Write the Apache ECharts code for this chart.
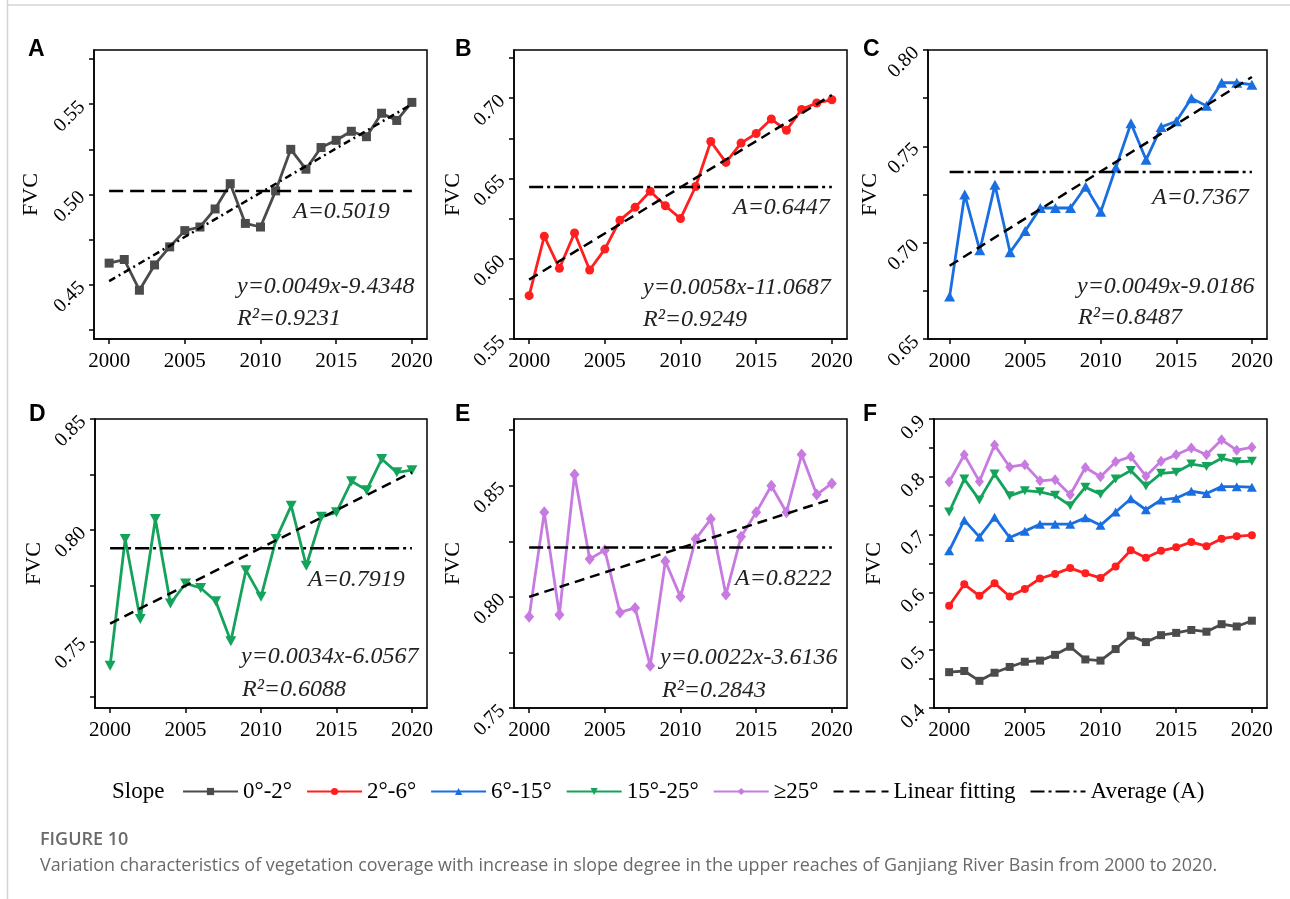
<!DOCTYPE html>
<html><head><meta charset="utf-8">
<script src="https://cdn.jsdelivr.net/npm/echarts@6/dist/echarts.min.js"></script>
<style>html,body{margin:0;padding:0;background:#fff}#c{width:1290px;height:899px}</style>
</head><body><div id="c"></div>
<script>
// ---------------- data ----------------
const years = [2000,2001,2002,2003,2004,2005,2006,2007,2008,2009,2010,2011,2012,2013,2014,2015,2016,2017,2018,2019,2020];
const fvc0to2 = [0.462,0.464,0.447,0.461,0.471,0.480,0.482,0.492,0.506,0.484,0.482,0.502,0.525,0.514,0.526,0.530,0.535,0.532,0.545,0.541,0.551];
const fvc2to6 = [0.577,0.614,0.594,0.616,0.593,0.606,0.624,0.632,0.642,0.633,0.625,0.645,0.673,0.660,0.672,0.678,0.687,0.680,0.693,0.697,0.699];
const fvc6to15 = [0.672,0.725,0.696,0.730,0.695,0.706,0.718,0.718,0.718,0.729,0.716,0.739,0.762,0.743,0.760,0.763,0.775,0.771,0.783,0.783,0.782];
const fvc15to25 = [0.739,0.796,0.760,0.805,0.767,0.776,0.774,0.768,0.750,0.782,0.770,0.796,0.811,0.784,0.806,0.808,0.822,0.818,0.832,0.826,0.827];
const fvcAbove25 = [0.791,0.838,0.792,0.855,0.817,0.821,0.793,0.795,0.769,0.816,0.800,0.826,0.835,0.801,0.827,0.838,0.850,0.838,0.864,0.846,0.851];
const averageA = [0.5019,0.6447,0.7367,0.7919,0.8222];
const fitStart = [0.452,0.587,0.688,0.758,0.800];
const fitEnd = [0.550,0.702,0.786,0.826,0.844];
const fitEquations = ['y=0.0049x-9.4348','y=0.0058x-11.0687','y=0.0049x-9.0186','y=0.0034x-6.0567','y=0.0022x-3.6136'];
const r2Values = ['0.9231','0.9249','0.8487','0.6088','0.2843'];
const seriesNames = ['0°-2°','2°-6°','6°-15°','15°-25°','≥25°'];
const panelLetters = ['A','B','C','D','E','F'];
const xTicks = [2000,2005,2010,2015,2020];
const yLabelTicks = [[0.45,0.50,0.55],[0.55,0.60,0.65,0.70],[0.65,0.70,0.75,0.80],[0.75,0.80,0.85],[0.75,0.80,0.85],[0.4,0.5,0.6,0.7,0.8,0.9]];
const yMinorTicks = [[0.425,0.475,0.525,0.575],[0.575,0.625,0.675,0.725],[0.675,0.725,0.775],[0.725,0.775,0.825],[0.775,0.825,0.875],[0.45,0.55,0.65,0.75,0.85]];
const yRanges = [[0.42,0.58],[0.55,0.73],[0.65,0.80],[0.72,0.85],[0.75,0.88],[0.4,0.9]];
const xRanges = [[1999,2021],[1999,2021],[1998.57,2021],[1999,2021],[1999,2021],[1999,2021]];
const fitName = 'Linear fitting';
const avgName = 'Average (A)';
const captionTitle = 'FIGURE 10';
const captionText = 'Variation characteristics of vegetation coverage with increase in slope degree in the upper reaches of Ganjiang River Basin from 2000 to 2020.';

// ---------------- styles / layout ----------------
const slopeData = [fvc0to2, fvc2to6, fvc6to15, fvc15to25, fvcAbove25];
const colors = ['#4b4b4b','#ff1f1f','#1a6fe0','#15a35c','#c77be0'];
const symbols = ['rect','circle','triangle','triangle','diamond'];
const rotates = [0,0,0,180,0];
const symSizeMain = [9,9,[11,10],[11,10],[10,12]];
const symSizeF = [8,8,[10,9],[10,9],[9,11]];
const grids = [
  {left:94, top:50, width:333, height:289},
  {left:514, top:50, width:333, height:289},
  {left:928, top:50, width:339, height:289},
  {left:95, top:419, width:332, height:289},
  {left:514, top:419, width:333, height:289},
  {left:934, top:419, width:333, height:289}
];
const nameGaps = [52,50,44,50,50,49];
const SERIF = '"Liberation Serif","Times New Roman",serif';

const gridOpts = grids.map(g => Object.assign({show:true, borderColor:'#000', borderWidth:1.5, backgroundColor:'transparent', containLabel:false}, g));
const xAxes = grids.map((g,i) => ({
  gridIndex:i, type:'value', min:xRanges[i][0], max:xRanges[i][1],
  axisLine:{show:true, onZero:false, lineStyle:{color:'#000', width:1.5}},
  axisTick:{show:true, length:5, lineStyle:{color:'#000', width:1.5}, customValues:xTicks},
  axisLabel:{customValues:xTicks, margin:12, fontFamily:SERIF, fontSize:21, color:'#000', formatter:v=>String(Math.round(v))},
  splitLine:{show:false}
}));
const yAxes = grids.map((g,i) => ({
  gridIndex:i, type:'value', min:yRanges[i][0], max:yRanges[i][1],
  name:'FVC', nameLocation:'middle', nameGap:nameGaps[i],
  nameTextStyle:{fontFamily:SERIF, fontSize:22, color:'#000'},
  axisLine:{show:true, onZero:false, lineStyle:{color:'#000', width:1.5}},
  axisTick:{show:true, length:5, lineStyle:{color:'#000', width:1.5}, customValues:yLabelTicks[i].concat(yMinorTicks[i])},
  axisLabel:{customValues:yLabelTicks[i], rotate:45, margin:12, fontFamily:SERIF, fontSize:20, color:'#000',
    formatter: v => i === 5 ? v.toFixed(1) : v.toFixed(2)},
  splitLine:{show:false}
}));

const series = [];
function slopeSeries(k, axis, sizes, z) {
  return {
    type:'line', name:seriesNames[k], xAxisIndex:axis, yAxisIndex:axis,
    data: years.map((yr,j) => [yr, slopeData[k][j]]),
    symbol:symbols[k], symbolRotate:rotates[k], symbolSize:sizes[k], showSymbol:true,
    lineStyle:{color:colors[k], width:2.8}, itemStyle:{color:colors[k]},
    z:z, silent:true
  };
}
for (let k = 0; k < 5; k++) series.push(slopeSeries(k, k, symSizeMain, 3));
for (let k = 0; k < 5; k++) series.push(slopeSeries(k, 5, symSizeF, 3));
// fit & average lines (panel A uses swapped line styles, as in the figure)
[1,2,3,4,0].forEach(i => {
  const fitType = i === 0 ? [7,4,2,4] : [10,6];
  const avgType = i === 0 ? [14,7] : [14,4,3,4];
  series.push({
    type:'line', name:fitName, xAxisIndex:i, yAxisIndex:i, symbol:'none',
    data:[[years[0], fitStart[i]], [years[years.length-1], fitEnd[i]]],
    lineStyle:{color:'#000', width:2.5, type:fitType}, itemStyle:{color:'#000'}, z:4, silent:true
  });
  series.push({
    type:'line', name:avgName, xAxisIndex:i, yAxisIndex:i, symbol:'none',
    data:[[years[0], averageA[i]], [years[years.length-1], averageA[i]]],
    lineStyle:{color:'#000', width:2.5, type:avgType}, itemStyle:{color:'#000'}, z:4, silent:true
  });
});

// annotation text positions (pixel layout)
const annPos = [
  {a:[293,212], e:[237,287], r:[237,319]},
  {a:[733,208], e:[643,288], r:[643,320]},
  {a:[1152,198], e:[1077,287], r:[1078,318]},
  {a:[308,580], e:[241,657], r:[242,690]},
  {a:[735,579], e:[660,658], r:[662,691]}
];
const letterPos = [[28,50],[455,50],[863,50],[29,415],[455,415],[863,415]];
const ITAL = 'italic 24px "Liberation Serif"';
function txt(x, y, text, font, fill, extra) {
  return Object.assign({type:'text', x:x, y:y, z:100, silent:true,
    style:{text:text, font:font, fill:fill||'#000', textVerticalAlign:'middle', verticalAlign:'middle', textAlign:'left', align:'left'}}, extra||{});
}
const graphics = [
  {type:'line', silent:true, z:0, shape:{x1:7.5, y1:0, x2:7.5, y2:899}, style:{stroke:'#d4d4d4', lineWidth:1.5}},
  {type:'line', silent:true, z:0, shape:{x1:7.5, y1:5, x2:1290, y2:5}, style:{stroke:'#d4d4d4', lineWidth:1.5}}
];
panelLetters.forEach((L,i) => graphics.push(txt(letterPos[i][0], letterPos[i][1], L, 'bold 23px "Liberation Sans", Arial, sans-serif', '#000')));
annPos.forEach((p,i) => {
  graphics.push(txt(p.a[0], p.a[1], 'A=' + averageA[i].toFixed(4), ITAL, '#222'));
  graphics.push(txt(p.e[0], p.e[1], fitEquations[i], ITAL, '#222'));
  graphics.push(txt(p.r[0], p.r[1], 'R²=' + r2Values[i], ITAL, '#222'));
});
graphics.push(txt(112, 792, 'Slope', '23px "Liberation Serif"', '#000'));
graphics.push(txt(40, 840, captionTitle, '600 18px "Open Sans", sans-serif', '#6a6a6a'));
graphics.push(txt(40, 866, captionText, '17.9px "Open Sans", sans-serif', '#6a6a6a'));

const option = {
  backgroundColor:'#fff',
  animation:false,
  grid:gridOpts,
  xAxis:xAxes,
  yAxis:yAxes,
  legend:{
    left:177, top:775, itemWidth:55, itemHeight:9, itemGap:14, selectedMode:false,
    textStyle:{fontFamily:SERIF, fontSize:23, color:'#000'},
    data: seriesNames.concat([
      {name:fitName, itemStyle:{opacity:0}},
      {name:avgName, itemStyle:{opacity:0}}
    ])
  },
  series:series,
  graphic:graphics
};
const chart = echarts.init(document.getElementById('c'), null, {renderer:'canvas'});
chart.setOption(option);
</script>
</body></html>
